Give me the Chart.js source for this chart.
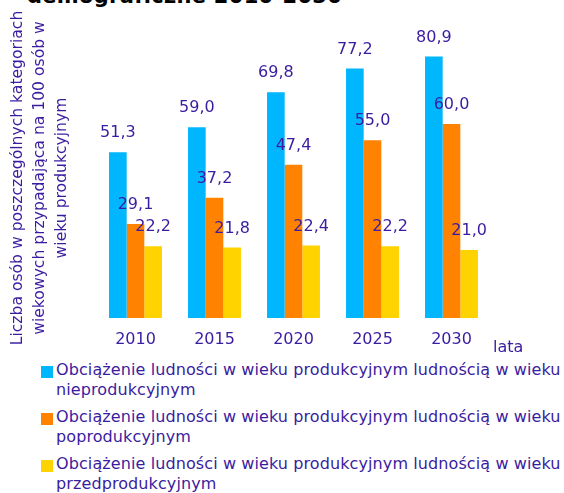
<!DOCTYPE html>
<html>
<head>
<meta charset="utf-8">
<script src="https://cdn.jsdelivr.net/npm/chart.js@4/dist/chart.umd.min.js"></script>
<style>
    body { margin: 0; width: 564px; height: 493px; overflow: hidden; background: #fff; position: relative; font-family: "DejaVu Sans", Verdana, sans-serif; }
    #tytul { position: absolute; left: 27px; top: -16px; font-size: 21px; letter-spacing: 0.3px; line-height: 24px; font-weight: bold; color: #000; white-space: nowrap; }
    #wykres { position: absolute; left: 0; top: 0; }
    #legenda { position: absolute; left: 41px; top: 360px; width: 523px; }
    .poz { display: flex; align-items: flex-start; margin-bottom: 7px; }
    .kw { width: 12px; height: 12px; margin-top: 6px; flex: none; }
    .txt { margin-left: 3px; font-size: 16px; letter-spacing: 0.1px; line-height: 20px; color: #3a1ca0; white-space: nowrap; }
</style>
</head>
<body>
<div id="tytul">demograficzne 2010-2030</div>
<canvas id="wykres" width="564" height="360"></canvas>
<div id="legenda"></div>
<script>
const lata = ['2010', '2015', '2020', '2025', '2030'];
const nieprodukcyjny = [51.3, 59.0, 69.8, 77.2, 80.9];
const poprodukcyjny = [29.1, 37.2, 47.4, 55.0, 60.0];
const przedprodukcyjny = [22.2, 21.8, 22.4, 22.2, 21.0];
const nazwySerii = [
    'Obciążenie ludności w wieku produkcyjnym ludnością w wieku nieprodukcyjnym',
    'Obciążenie ludności w wieku produkcyjnym ludnością w wieku poprodukcyjnym',
    'Obciążenie ludności w wieku produkcyjnym ludnością w wieku przedprodukcyjnym'
];
const kolory = ['#00b6ff', '#ff8200', '#ffd300'];
const tytulOsiY = ['Liczba osób w poszczególnych kategoriach', 'wiekowych przypadająca na 100 osób w', 'wieku produkcyjnym'];

const kolorTekstu = '#3a1ca0';
const czcionka = '"DejaVu Sans", Verdana, sans-serif';

// etykiety wartości nad słupkami, opis osi Y i podpis "lata"
const etykiety = {
    id: 'etykiety',
    afterDatasetsDraw(chart) {
        const ctx = chart.ctx;
        ctx.save();
        ctx.font = '16px ' + czcionka;
        ctx.fillStyle = kolorTekstu;
        ctx.textAlign = 'center';
        ctx.textBaseline = 'middle';
        chart.data.datasets.forEach(function (ds, i) {
            chart.getDatasetMeta(i).data.forEach(function (bar, j) {
                ctx.fillText(ds.data[j].toFixed(1).replace('.', ','), bar.x, bar.y - 19);
            });
        });
        ctx.textAlign = 'left';
        ctx.fillText('lata', chart.chartArea.right + 2, 348);

        // opis osi Y (trzy linie, obrócony)
        ctx.font = '15.6px ' + czcionka;
        ctx.textAlign = 'center';
        ctx.translate(18, 178);
        ctx.rotate(-Math.PI / 2);
        tytulOsiY.forEach(function (linia, k) {
            ctx.fillText(linia, 0, k * 22);
        });
        ctx.restore();
    }
};

const datasets = [nieprodukcyjny, poprodukcyjny, przedprodukcyjny].map(function (dane, i) {
    return {
        label: nazwySerii[i],
        data: dane,
        backgroundColor: kolory[i],
        borderWidth: 0,
        categoryPercentage: 0.67,
        barPercentage: 1
    };
});

new Chart(document.getElementById('wykres'), {
    type: 'bar',
    data: { labels: lata, datasets: datasets },
    options: {
        responsive: false,
        animation: false,
        devicePixelRatio: 1,
        layout: { padding: { left: 7, right: 73, top: 27, bottom: 12 } },
        plugins: {
            legend: { display: false },
            tooltip: { enabled: false }
        },
        scales: {
            x: {
                grid: { display: false, drawTicks: false },
                border: { display: false },
                ticks: { color: kolorTekstu, font: { family: czcionka, size: 16 }, padding: 12 },
                afterFit: function (scale) { scale.height = 30; }
            },
            y: {
                min: 0,
                max: 90,
                grid: { display: false, drawTicks: false },
                border: { display: false },
                ticks: { display: false },
                afterFit: function (scale) { scale.width = 89; }
            }
        }
    },
    plugins: [etykiety]
});

// legenda w HTML (tekst zawija się do dwóch linii)
const legenda = document.getElementById('legenda');
nazwySerii.forEach(function (nazwa, i) {
    const podzial = nazwa.lastIndexOf(' ');
    const poz = document.createElement('div');
    poz.className = 'poz';
    poz.innerHTML = '<div class="kw" style="background:' + kolory[i] + '"></div><div class="txt">' +
        nazwa.slice(0, podzial) + '<br>' + nazwa.slice(podzial + 1) + '</div>';
    legenda.appendChild(poz);
});
</script>
</body>
</html>
